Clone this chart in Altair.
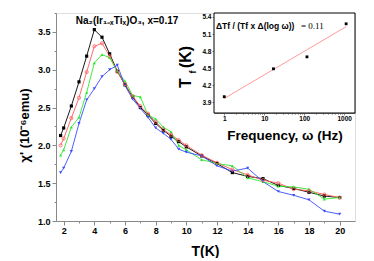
import altair as alt
import pandas as pd

# ---------------- data ----------------
T = [1.8, 2.0, 2.5, 3.0, 3.5, 4.0, 4.5, 5.0, 5.5, 6.0, 6.5, 7.0, 7.5, 8.0, 8.5, 9.0, 9.5,
     10, 11, 12, 13, 14, 15, 16, 17, 18, 19, 20]
chi_black = [2.13, 2.23, 2.52, 2.84, 3.18, 3.53, 3.43, 3.21, 2.98, 2.80, 2.64, 2.50, 2.40, 2.29,
             2.20, 2.12, 2.05, 1.98, 1.86, 1.76, 1.64, 1.59, 1.56, 1.47, 1.43, 1.38, 1.33, 1.31]
chi_red = [2.00, 2.09, 2.36, 2.63, 2.97, 3.31, 3.35, 3.18, 2.97, 2.81, 2.65, 2.52, 2.42, 2.31,
           2.21, 2.14, 2.07, 2.00, 1.87, 1.77, 1.68, 1.61, 1.54, 1.50, 1.42, 1.40, 1.35, 1.31]
chi_green = [1.87, 1.94, 2.24, 2.37, 2.70, 3.09, 3.20, 3.16, 2.98, 2.85, 2.66, 2.64, 2.40, 2.35,
             2.24, 2.18, 2.00, 1.94, 1.81, 1.76, 1.73, 1.57, 1.52, 1.46, 1.45, 1.42, 1.29, 1.31]
chi_blue = [1.64, 1.70, 1.92, 2.29, 2.60, 2.75, 2.91, 3.00, 3.06, 2.79, 2.61, 2.49, 2.37, 2.23,
            2.16, 2.08, 1.95, 1.91, 1.86, 1.73, 1.66, 1.70, 1.52, 1.39, 1.34, 1.28, 1.13, 1.09]

series_names = ["black", "red", "green", "blue"]
series_colors = ["#000000", "#ff5a5a", "#2ee82e", "#3a4cff"]

freq = [1, 17, 117, 1117]
tf = [4.00, 4.49, 4.70, 5.28]
fit_freq = [1, 1117]
fit_tf = [3.97, 5.23]

x_ticks = [2, 4, 6, 8, 10, 12, 14, 16, 18, 20]
x_minor = [3, 5, 7, 9, 11, 13, 15, 17, 19]
y_ticks = [1.0, 1.5, 2.0, 2.5, 3.0, 3.5]
y_minor = [1.25, 1.75, 2.25, 2.75, 3.25, 3.75]
f_ticks = [1, 10, 100, 1000]
f_minor = [2, 3, 4, 5, 6, 7, 8, 9, 20, 30, 40, 50, 60, 70, 80, 90,
           200, 300, 400, 500, 600, 700, 800, 900]
tf_ticks = [3.9, 4.2, 4.5, 4.8, 5.1, 5.4]

main_title = "Na₂(Ir₁₋ₓTiₓ)O₃, x=0.17"
y_title = "χ' (10⁻⁶emu)"
x_title = "T(K)"
inset_x_title = "Frequency, ω (Hz)"
inset_eq = "ΔTf / (Tf x Δ(log ω))"
inset_eq_val = "= 0.11"

# ---------------- build ----------------
rows = []
for name, vals in zip(series_names, [chi_black, chi_red, chi_green, chi_blue]):
    for t, v in zip(T, vals):
        rows.append({"T": t, "chi": v, "series": name})
df = pd.DataFrame(rows)

W, H = 299, 208
FONT = "Liberation Sans"

xs = alt.Scale(domain=[1.5, 21], nice=False, zero=False)
ys = alt.Scale(domain=[1.0, 3.75], nice=False, zero=False)
cs = alt.Scale(domain=series_names, range=series_colors)

x_axis = alt.Axis(orient="bottom", values=x_ticks, format="d", grid=False, tickSize=4,
                  labelFontSize=9, labelFontWeight="bold", labelPadding=1,
                  title=x_title, titleFontSize=14, titleFontWeight="bold",
                  titleX=149, titleY=30, titleBaseline="middle", titleAlign="center")
y_axis = alt.Axis(orient="left", values=y_ticks, format=".1f", grid=False, tickSize=4,
                  labelFontSize=9, labelFontWeight="bold", labelPadding=2,
                  title=y_title, titleFontSize=13, titleFontWeight="bold",
                  titleX=-32, titleY=112, titleAngle=270, titleBaseline="middle",
                  titleAlign="center")

lines = alt.Chart(df).mark_line(strokeWidth=0.9).encode(
    x=alt.X("T:Q", scale=xs, axis=x_axis),
    y=alt.Y("chi:Q", scale=ys, axis=y_axis),
    color=alt.Color("series:N", scale=cs, legend=None),
)
pts_filled = alt.Chart(df).transform_filter(alt.datum.series != "red").mark_point(
    filled=True, size=10, opacity=1).encode(
    x=alt.X("T:Q", scale=xs, axis=None),
    y=alt.Y("chi:Q", scale=ys, axis=None),
    color=alt.Color("series:N", scale=cs, legend=None),
    shape=alt.Shape("series:N", scale=alt.Scale(domain=["black", "green", "blue"],
                                                 range=["square", "triangle-up", "triangle-down"]),
                    legend=None),
)
pts_open = alt.Chart(df).transform_filter(alt.datum.series == "red").mark_point(
    filled=False, size=10, strokeWidth=0.8, shape="circle", color="#ff5a5a", opacity=1).encode(
    x=alt.X("T:Q", scale=xs, axis=None),
    y=alt.Y("chi:Q", scale=ys, axis=None),
)
minor = alt.Chart(df).mark_line(opacity=0).encode(
    x=alt.X("T:Q", scale=xs, axis=alt.Axis(orient="bottom", values=x_minor, labels=False,
                                             tickSize=2, domain=False, grid=False, title=None)),
    y=alt.Y("chi:Q", scale=ys, axis=alt.Axis(orient="left", values=y_minor, labels=False,
                                               tickSize=2, domain=False, grid=False, title=None)),
    detail="series:N",
)
title_txt = alt.Chart(pd.DataFrame({"label": [main_title]})).mark_text(
    fontSize=10, fontWeight="bold", font=FONT, align="center", baseline="middle").encode(
    text="label:N", x=alt.value(71), y=alt.value(8))

main = alt.layer(lines, pts_filled, pts_open, minor, title_txt).resolve_axis(
    x="independent", y="independent")

# ---------------- inset ----------------
fs = alt.Scale(type="log", domain=[0.553, 1862], range=[158, 299], nice=False)
ts = alt.Scale(domain=[3.714, 5.47], range=[100, 0], nice=False, zero=False)
inset_df = pd.DataFrame({"freq": freq, "tf": tf})
fit_df = pd.DataFrame({"freq": fit_freq, "tf": fit_tf})

frame = alt.Chart(pd.DataFrame({"k": [0]})).mark_rect(
    fill="white", stroke="black", strokeWidth=1).encode(
    x=alt.value(158), x2=alt.value(299), y=alt.value(0), y2=alt.value(100))

fx_axis = alt.Axis(orient="bottom", offset=-108, values=f_ticks, format="d", grid=False,
                   tickSize=2, labelFontSize=6.5, labelFontWeight="bold", labelPadding=0,
                   title=inset_x_title, titleFontSize=13.5, titleFontWeight="bold",
                   titleBaseline="middle", titleY=22)
fy_axis = alt.Axis(orient="left", offset=-158, values=tf_ticks, format=".1f", grid=False,
                   tickSize=2, labelFontSize=6.5, labelFontWeight="bold", labelPadding=1,
                   title=None)
fit = alt.Chart(fit_df).mark_line(color="#ff8080", strokeWidth=0.8).encode(
    x=alt.X("freq:Q", scale=fs, axis=fx_axis),
    y=alt.Y("tf:Q", scale=ts, axis=fy_axis),
)
inset_pts = alt.Chart(inset_df).mark_point(shape="square", filled=True, size=8,
                                           color="black", opacity=1).encode(
    x=alt.X("freq:Q", scale=fs, axis=None),
    y=alt.Y("tf:Q", scale=ts, axis=None),
)
inset_minor = alt.Chart(fit_df).mark_line(opacity=0).encode(
    x=alt.X("freq:Q", scale=fs, axis=alt.Axis(orient="bottom", offset=-108, values=f_minor,
                                                labels=False, tickSize=1.2, domain=False,
                                                grid=False, title=None)),
    y=alt.Y("tf:Q", scale=ts, axis=None),
)
eq_txt = alt.Chart(pd.DataFrame({"label": [inset_eq]})).mark_text(
    fontSize=8.5, fontWeight="bold", font=FONT, align="left", baseline="middle").encode(
    text="label:N", x=alt.value(160), y=alt.value(13))
eq_val = alt.Chart(pd.DataFrame({"label": [inset_eq_val]})).mark_text(
    fontSize=9, font="Liberation Serif", align="left", baseline="middle").encode(
    text="label:N", x=alt.value(245), y=alt.value(13))
tf_T = alt.Chart(pd.DataFrame({"label": ["T"]})).mark_text(
    fontSize=16, fontWeight="bold", font=FONT, angle=270, align="center",
    baseline="middle").encode(text="label:N", x=alt.value(130), y=alt.value(70))
tf_f = alt.Chart(pd.DataFrame({"label": ["f"]})).mark_text(
    fontSize=9, fontWeight="bold", font=FONT, angle=270, align="center",
    baseline="middle").encode(text="label:N", x=alt.value(137), y=alt.value(59))
tf_K = alt.Chart(pd.DataFrame({"label": ["(K)"]})).mark_text(
    fontSize=16, fontWeight="bold", font=FONT, angle=270, align="center",
    baseline="middle").encode(text="label:N", x=alt.value(130), y=alt.value(44))

inset = alt.layer(frame, fit, inset_pts, inset_minor, eq_txt, eq_val, tf_T, tf_f, tf_K).resolve_axis(
    x="independent", y="independent")

chart = alt.layer(main, inset).resolve_scale(x="independent", y="independent").properties(
    width=W, height=H,
    autosize=alt.AutoSizeParams(type="none"),
    padding={"left": 48, "top": 5, "right": 11, "bottom": 37},
).configure_view(stroke="black", strokeWidth=1).configure_axis(
    labelFont=FONT, titleFont=FONT, domainColor="black", tickColor="black",
    labelColor="black", titleColor="black", domainWidth=1, tickWidth=1,
).configure(background="white")

chart.save("out.html", embed_options={"renderer": "svg", "actions": False})
